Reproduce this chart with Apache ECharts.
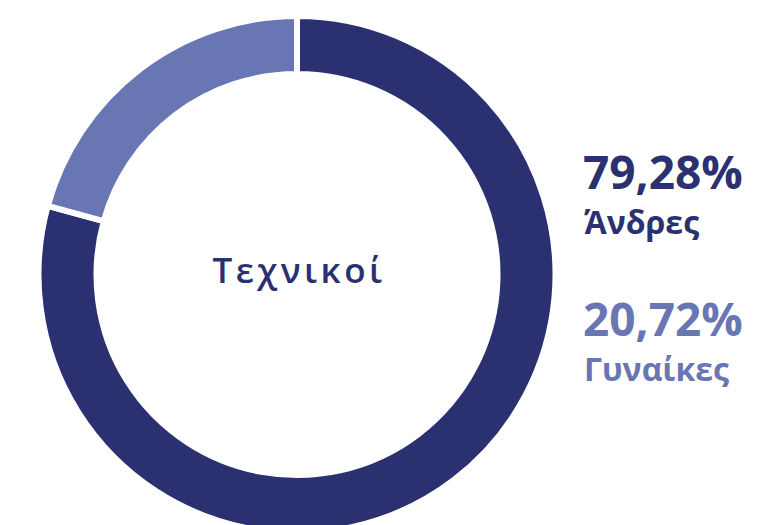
<!DOCTYPE html>
<html>
<head>
<meta charset="utf-8">
<script src="https://cdn.jsdelivr.net/npm/echarts@6/dist/echarts.min.js"></script>
<style>
  html, body { margin: 0; padding: 0; background: #ffffff; }
  #chart { width: 758px; height: 525px; }
</style>
</head>
<body>
<div id="chart"></div>
<script>
// Share of technical staff by gender
const categories = ['Άνδρες', 'Γυναίκες'];
const shares = [79.28, 20.72];
const colors = ['#2b3070', '#6876b4'];
const centerTitle = 'Τεχνικοί';

const FONT = '"Open Sans", "Noto Sans", sans-serif';
const CX = 297, CY = 274.5;

function fmtPct(v) {
  return v.toFixed(2).replace('.', ',') + '%';
}

const chart = echarts.init(document.getElementById('chart'), null, { renderer: 'svg' });

// Percentage + group name blocks on the right
const labelTexts = [];
categories.forEach(function (name, i) {
  const top = 148 + i * 147;
  labelTexts.push({
    type: 'text',
    x: 583,
    y: top,
    style: {
      text: fmtPct(shares[i]),
      fill: colors[i],
      font: 'bold 46px ' + FONT
    }
  });
  labelTexts.push({
    type: 'text',
    x: 584,
    y: top + 57,
    style: {
      text: name,
      fill: colors[i],
      font: 'bold 32px ' + FONT
    }
  });
});

chart.setOption({
  animation: false,
  backgroundColor: '#ffffff',
  series: [{
    type: 'pie',
    center: [CX, CY],
    radius: [200.5, 258.5],
    startAngle: 90,
    clockwise: true,
    silent: true,
    label: { show: false },
    labelLine: { show: false },
    itemStyle: { borderColor: '#ffffff', borderWidth: 6 },
    data: categories.map(function (name, i) {
      return { name: name, value: shares[i], itemStyle: { color: colors[i] } };
    })
  }],
  graphic: [{
    type: 'text',
    id: 'centerTitle',
    x: CX + 2,
    y: CY - 5,
    style: {
      text: centerTitle,
      fill: colors[0],
      font: '600 35px ' + FONT,
      align: 'center',
      verticalAlign: 'middle'
    }
  }].concat(labelTexts)
});

// Widen the tracking of the centre title
document.querySelectorAll('#chart svg text').forEach(function (t) {
  if (t.textContent === centerTitle) {
    t.style.letterSpacing = '3.5px';
  }
});
</script>
</body>
</html>
